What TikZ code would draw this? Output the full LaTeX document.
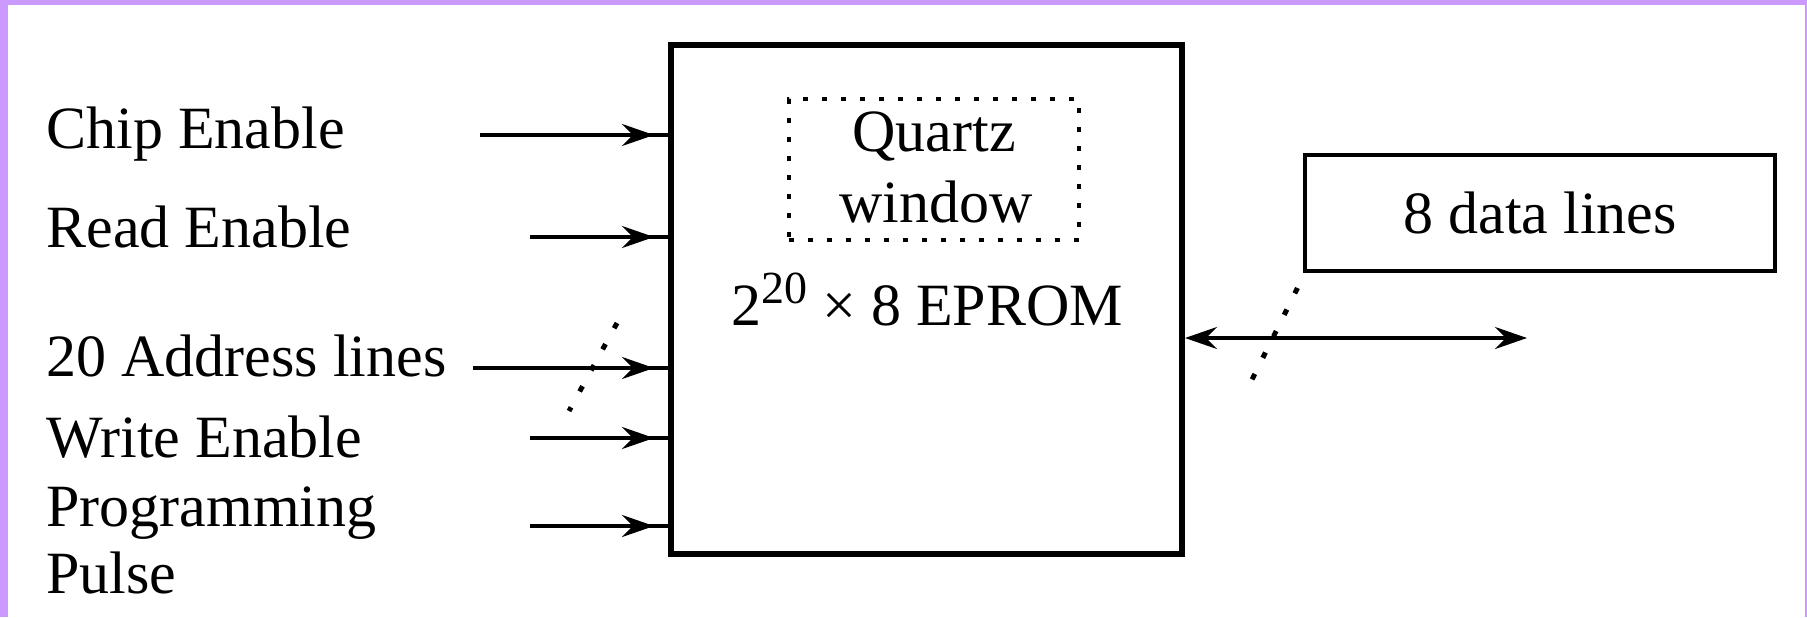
\documentclass[tikz,border=0pt]{standalone}
\usepackage{fontspec}
\setmainfont{Liberation Serif}
\usetikzlibrary{arrows.meta,decorations.markings}
\definecolor{framepurple}{RGB}{204,153,255}
\tikzset{
  tipstyle/.tip={Stealth[length=16pt,width=11pt,inset=5.5pt]},
  inarrow/.style={line width=2pt,
    postaction={decorate,decoration={markings,
      mark=at position -7pt with {\arrow{tipstyle}}}}},
  lbl/.style={anchor=base west,inner sep=0pt,font=\fontsize{30}{36}\selectfont},
  txt/.style={anchor=base,inner sep=0pt,font=\fontsize{30}{36}\selectfont},
  dotbox/.style={line width=2pt,dash pattern=on 2.5pt off 7pt},
  dotline/.style={line width=2.5pt,dash pattern=on 3pt off 9pt},
}
\newcommand{\supdigits}[1]{\raisebox{11pt}{\fontsize{23}{24}\selectfont #1}}
\begin{document}
\begin{tikzpicture}[x=0.5pt,y=-0.5pt]
\useasboundingbox (0,0) rectangle (1807,617);
\fill[framepurple] (0,0) rectangle (1807,617);
\fill[white] (8,5) rectangle (1805,617);

% main EPROM box
\node[draw,line width=3pt,minimum width=255.5pt,minimum height=254.5pt,inner sep=0pt] (rom) at (926.5,299.5) {};
% quartz window
\node[draw,dotbox,minimum width=145.25pt,minimum height=70.5pt,inner sep=0pt] (qw) at (934,169.5) {};
\node[txt] (q1) at (934,151) {Quartz};
\node[txt] (q2) at (936,222) {window};
\node[txt] (eprom) at (927,325) {2\supdigits{20}\hspace{0.25em}×\ 8 EPROM};

% data lines box
\node[draw,line width=1.8pt,minimum width=235.25pt,minimum height=58pt,inner sep=0pt,
      font=\fontsize{30}{36}\selectfont] (data) at (1540,213) {8 data lines};

% labels
\node[lbl] (lce) at (46,148) {Chip Enable};
\node[lbl] (lre) at (46,247) {Read Enable};
\node[lbl] (lad) at (46,376) {20 Address lines};
\node[lbl] (lwe) at (46,457) {Write Enable};
\node[lbl] (lpp) at (46,526) {Programming};
\node[lbl] (lpu) at (46,593) {Pulse};

% input arrows
\coordinate (ce) at (480,135);
\coordinate (re) at (530,237);
\coordinate (ad) at (473,368);
\coordinate (we) at (530,438);
\coordinate (pp) at (530,526);
\draw[inarrow] (ce) -- (ce -| rom.west);
\draw[inarrow] (re) -- (re -| rom.west);
\draw[inarrow] (ad) -- (ad -| rom.west);
\draw[inarrow] (we) -- (we -| rom.west);
\draw[inarrow] (pp) -- (pp -| rom.west);

% bidirectional data arrow
\coordinate (dend) at (1527,338);
\draw[line width=2pt,{tipstyle}-{tipstyle}] (dend -| rom.east) -- (dend);

% bus slashes
\coordinate (s1a) at (617,323);
\coordinate (s1b) at (569,411);
\draw[dotline] (s1a) -- (s1b);
\coordinate (s2a) at (1297.5,288);
\coordinate (s2b) at (1251.8,380);
\draw[dotline] (s2a) -- (s2b);
\end{tikzpicture}
\end{document}
